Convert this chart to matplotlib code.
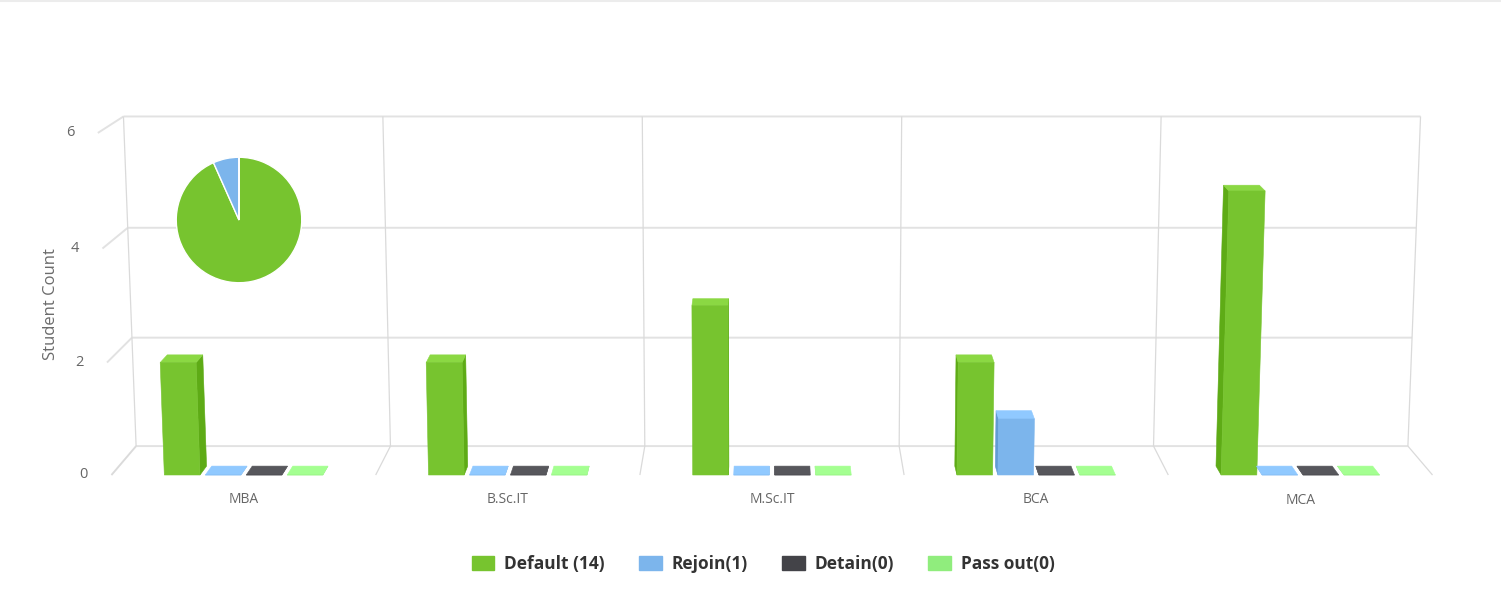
"""3D-style grouped column chart of student counts per course, with a status pie."""

import matplotlib

matplotlib.use("Agg")
import matplotlib.pyplot as plt
import numpy as np
from matplotlib.patches import Patch, Polygon

W, H = 1501, 610

CATEGORIES = ["MBA", "B.Sc.IT", "M.Sc.IT", "BCA", "MCA"]
SERIES = ["Default", "Rejoin", "Detain", "Pass out"]
DEFAULT = [2, 2, 3, 2, 5]
REJOIN = [0, 0, 0, 1, 0]
DETAIN = [0, 0, 0, 0, 0]
PASS_OUT = [0, 0, 0, 0, 0]
Y_TICKS = [0, 2, 4, 6]
Y_TITLE = "Student Count"

COLORS = ["#77c42f", "#7cb5ec", "#434348", "#90ed7d"]
GRID = "#e2e2e2"
FONT = "Open Sans"

# frame anchors: (category units, value, depth 0=front..1=back) -> pixel
ANCHORS = [
    ((0, 6, 1), (123, 116)), ((0, 4, 1), (128, 229)), ((0, 2, 1), (132, 338)), ((0, 0, 1), (136, 445)),
    ((5, 6, 1), (1421, 116)), ((5, 4, 1), (1416, 229)), ((5, 2, 1), (1412, 338)), ((5, 0, 1), (1408, 445)),
    ((0, 6, 0), (98, 132)), ((0, 4, 0), (103, 249)), ((0, 2, 0), (107, 363)), ((0, 0, 0), (111, 475)),
    ((5, 6, 0), (1446, 132)), ((5, 4, 0), (1441, 249)), ((5, 2, 0), (1437, 363)), ((5, 0, 0), (1433, 475)),
]
BAR_W, BAR_STEP, BAR_DEPTH = 0.135, 0.155, 0.3


def fit_projection(anchors, norm=500.0):
    rows = []
    for (u, v, w), (x, y) in anchors:
        X = [u, v, w, 1.0]
        rows.append(X + [0.0] * 4 + [-x / norm * c for c in X])
        rows.append([0.0] * 4 + X + [-y / norm * c for c in X])
    _, _, vt = np.linalg.svd(np.array(rows, dtype=float))
    P = vt[-1].reshape(3, 4)
    return lambda u, v, w: tuple(norm * (P[:2] @ [u, v, w, 1.0]) / (P[2] @ [u, v, w, 1.0]))


def shade(color, amount):
    rgb = np.array(matplotlib.colors.to_rgb(color)) + amount
    return tuple(np.clip(rgb, 0, 1))


proj = fit_projection(ANCHORS)

fig = plt.figure(figsize=(W / 100, H / 100), dpi=100)
ax = fig.add_axes([0, 0, 1, 1])
ax.set_xlim(0, W)
ax.set_ylim(H, 0)
ax.axis("off")

ax.plot([0, W], [1, 1], color="#ececec", lw=1.5)

n_cat = len(CATEGORIES)
top = Y_TICKS[-1]


def line(a, b, **kw):
    pa, pb = proj(*a), proj(*b)
    ax.plot([pa[0], pb[0]], [pa[1], pb[1]], solid_capstyle="butt", **kw)


# back wall + left side grid
for v in Y_TICKS:
    line((0, v, 1), (n_cat, v, 1), color=GRID, lw=1.4, zorder=1)
    line((0, v, 1), (0, v, 0), color=GRID, lw=1.4, zorder=1)
for k in range(n_cat + 1):
    line((k, 0, 1), (k, top, 1), color="#dadada", lw=0.9, zorder=1)
    line((k, 0, 1), (k, 0, 0), color="#dadada", lw=0.9, zorder=1)

# y labels and title
for v in Y_TICKS:
    x, y = proj(0, v, 0)
    ax.text(x - 28, y, str(v), ha="center", va="center", fontsize=10.5, color="#666666", family=FONT)
ax.text(51, 304, Y_TITLE, rotation=90, ha="center", va="center", fontsize=12, color="#6b6b6b", family=FONT)

# x labels
for j, name in enumerate(CATEGORIES):
    x, y = proj(j + 0.5, 0, 0)
    ax.text(x, y + 25, name, ha="center", va="center", fontsize=10, color="#666666", family=FONT)

# columns
values = [DEFAULT, REJOIN, DETAIN, PASS_OUT]
offsets = (np.arange(len(SERIES)) - (len(SERIES) - 1) / 2) * BAR_STEP
for i, (vals, color) in enumerate(zip(values, COLORS)):
    for j, val in enumerate(vals):
        u0 = j + 0.5 + offsets[i] - BAR_W / 2
        u1 = u0 + BAR_W
        d = BAR_DEPTH
        if proj(u1, 0, d)[0] > proj(u1, 0, 0)[0]:
            side = [(u1, 0, 0), (u1, 0, d), (u1, val, d), (u1, val, 0)]
        else:
            side = [(u0, 0, 0), (u0, 0, d), (u0, val, d), (u0, val, 0)]
        top_face = [(u0, val, 0), (u1, val, 0), (u1, val, d), (u0, val, d)]
        front = [(u0, 0, 0), (u1, 0, 0), (u1, val, 0), (u0, val, 0)]
        for pts, c in ((side, shade(color, -0.1)), (top_face, shade(color, 0.08)), (front, color)):
            poly = Polygon([proj(*p) for p in pts], closed=True, facecolor=c, edgecolor=c, lw=0.4, zorder=3)
            ax.add_patch(poly)

# pie of totals
cx, cy, r = 239, 220, 64
pax = fig.add_axes([(cx - r) / W, (H - cy - r) / H, 2 * r / W, 2 * r / H])
totals = [sum(v) for v in values]
pax.pie(totals, colors=COLORS, startangle=90, counterclock=False,
        wedgeprops=dict(edgecolor="white", linewidth=1.0))
pax.set_xlim(-1.02, 1.02)
pax.set_ylim(-1.02, 1.02)
pax.axis("off")

# legend
handles = [Patch(facecolor=c, edgecolor=c) for c in COLORS]
labels = [f"{SERIES[0]} ({totals[0]})"] + [f"{s}({t})" for s, t in zip(SERIES[1:], totals[1:])]
fig.legend(handles, labels, loc="center", bbox_to_anchor=(763 / W, 1 - 564 / H), ncol=4, frameon=False,
           handlelength=1.3, handleheight=0.9, handletextpad=0.55, columnspacing=2.0,
           prop=dict(family=FONT, weight="bold", size=12.5), labelcolor="#333333")

fig.savefig("out.png", dpi=100)
